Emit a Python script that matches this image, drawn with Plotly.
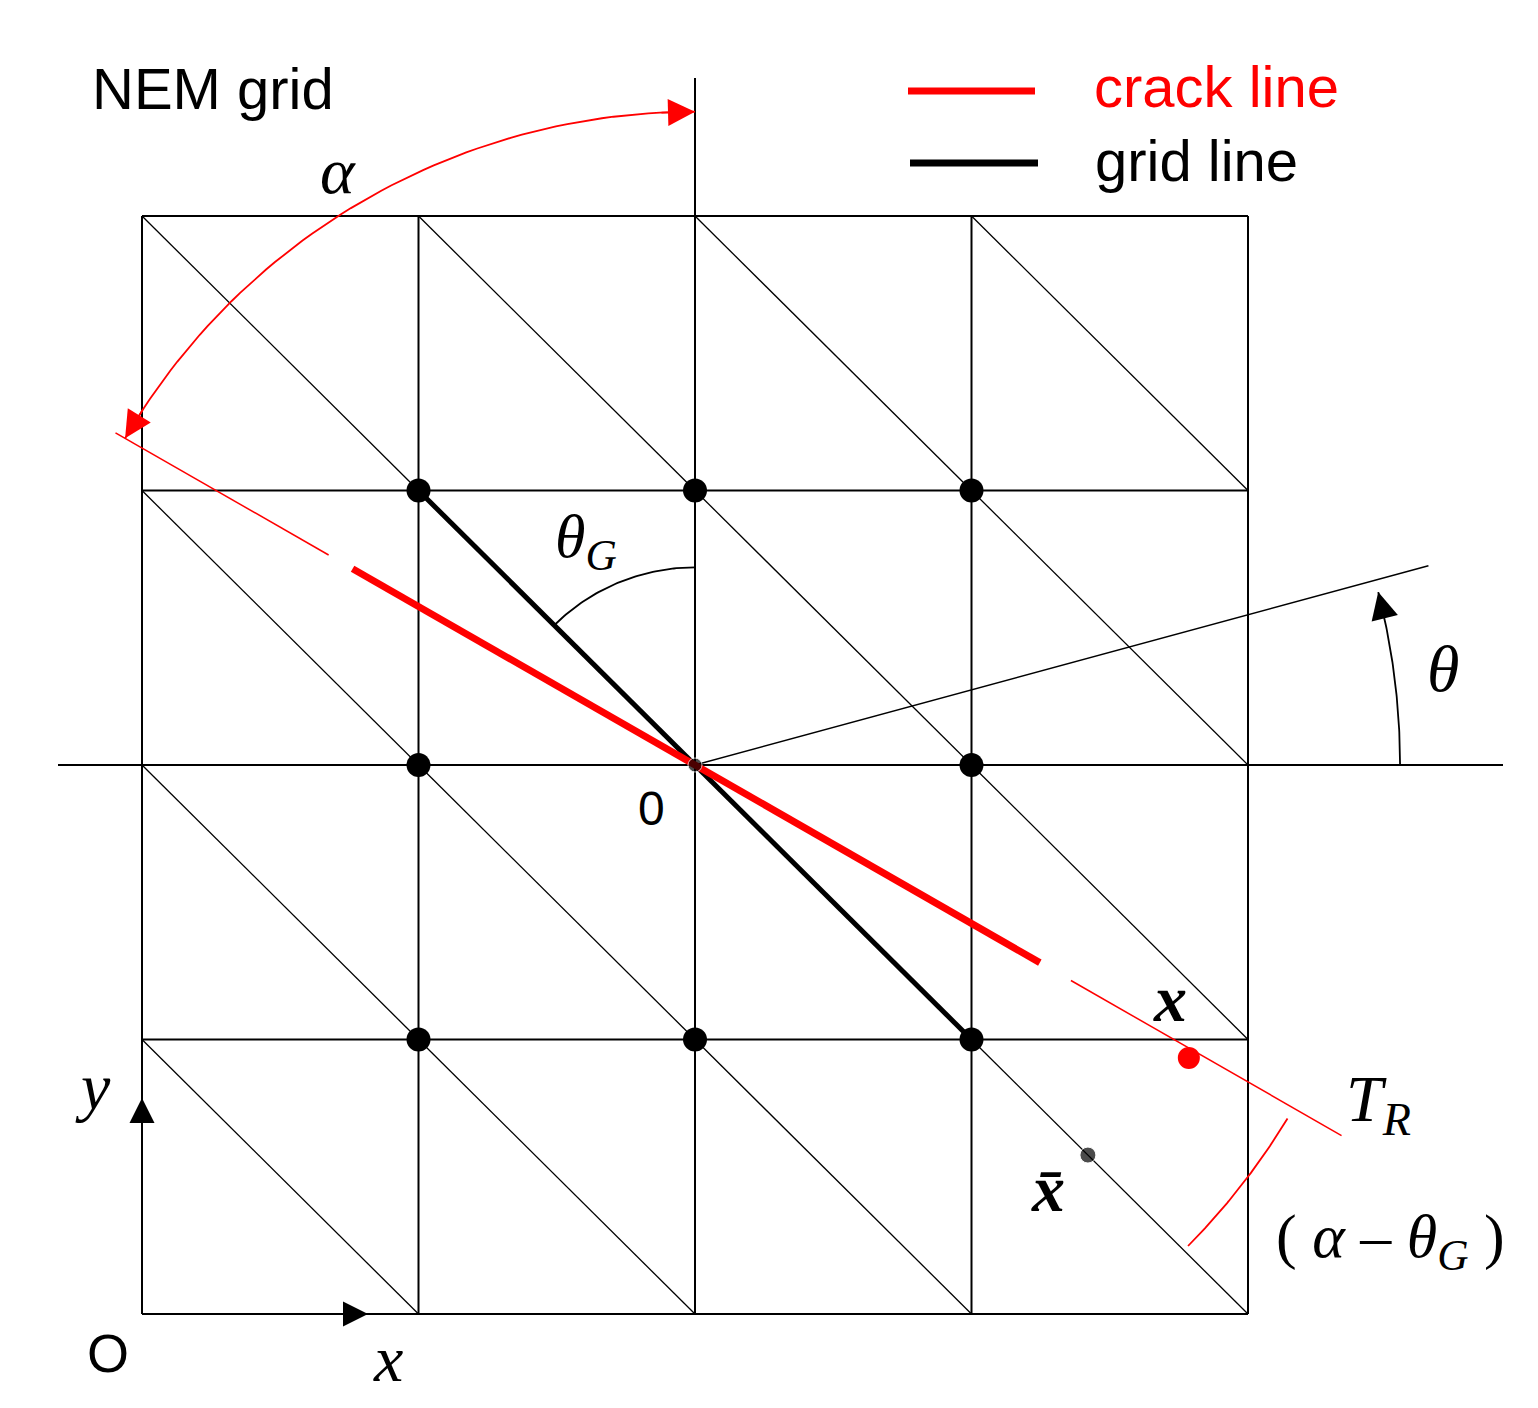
import numpy as np
import plotly.graph_objects as go

# grid in cell units, origin of the local frame at the centre node
grid_ticks = [0, 1, 2, 3, 4]
centre = (2, 2)
nodes_x = [1, 2, 3, 1, 3, 1, 2, 3]
nodes_y = [3, 3, 3, 2, 2, 1, 1, 1]
crack_deg = 150
crack_thick = [-1.44, 1.43]
crack_thin = [[1.53, 2.42], [-1.57, -2.70]]
grid_seg_x = [1, 3]
grid_seg_y = [3, 1]
theta_deg = 15.3
theta_len = 2.75
red_pt = (3.786, 0.933)
xbar_pt = (3.421, 0.579)

W, H = 1538, 1408
X0, Y0, SX, SY = 126, 1298, 276.5, 274.5  # page body offsets by ~8px


def px(u, v):
    return (u - X0 - 8) / SX, (Y0 + 8 - v) / SY


fig = go.Figure()


def line(xs, ys, color="black", width=2):
    fig.add_trace(go.Scatter(x=xs, y=ys, mode="lines", line=dict(color=color, width=width),
                             hoverinfo="skip", showlegend=False))


for t in grid_ticks:
    line([t, t], [0, 4])
    line([0, 4], [t, t])
for i in range(4):
    for j in range(4):
        line([i, i + 1], [j + 1, j], width=1.3)
line([px(50, 0)[0], px(1495, 0)[0]], [2, 2])
line([2, 2], [4, px(0, 70)[1]])

cx, cy = centre
d = np.array([np.cos(np.radians(crack_deg)), np.sin(np.radians(crack_deg))])
line([cx, cx + theta_len * np.cos(np.radians(theta_deg))],
     [cy, cy + theta_len * np.sin(np.radians(theta_deg))], width=1.5)
line(grid_seg_x, grid_seg_y, width=5)
line([cx + crack_thick[0] * d[0], cx + crack_thick[1] * d[0]],
     [cy + crack_thick[0] * d[1], cy + crack_thick[1] * d[1]], color="red", width=7)
for a, b in crack_thin:
    line([cx + a * d[0], cx + b * d[0]], [cy + a * d[1], cy + b * d[1]], color="red", width=1.5)

fig.add_trace(go.Scatter(x=nodes_x, y=nodes_y, mode="markers",
                         marker=dict(color="black", size=24), hoverinfo="skip", showlegend=False))
fig.add_trace(go.Scatter(x=[cx, xbar_pt[0]], y=[cy, xbar_pt[1]], mode="markers",
                         marker=dict(color="black", size=[14, 16]), hoverinfo="skip", showlegend=False))
fig.add_trace(go.Scatter(x=[red_pt[0]], y=[red_pt[1]], mode="markers",
                         marker=dict(color="red", size=22), hoverinfo="skip", showlegend=False))


def arc(r, a0, a1, color, both=True):
    ang = np.radians(np.linspace(a0, a1, 60))
    xs, ys = cx + r * np.cos(ang), cy + r * np.sin(ang)
    line(list(xs), list(ys), color=color, width=1.8)
    ends = [(xs[-1], ys[-1], xs[-4], ys[-4])]
    if both:
        ends.append((xs[0], ys[0], xs[3], ys[3]))
    for ex, ey, sx, sy in ends:
        fig.add_annotation(x=ex, y=ey, ax=sx, ay=sy, xref="x", yref="y", axref="x", ayref="y",
                           showarrow=True, arrowhead=2, arrowsize=3, arrowwidth=1.8,
                           arrowcolor=color, text="")


arc(2.38, 90, 150, "red")
arc(0.72, 90, 135, "black")
arc(2.55, 0, theta_deg - 1, "black", both=False)
arc(2.5, -31, -44.5, "red", both=False)

for (ex, ey, sx, sy) in [(0, px(0, 1090)[1], 0, px(0, 1130)[1]),
                         (px(360, 0)[0], 0, px(320, 0)[0], 0)]:
    fig.add_annotation(x=ex, y=ey, ax=sx, ay=sy, xref="x", yref="y", axref="x", ayref="y",
                       showarrow=True, arrowhead=2, arrowsize=2.5, arrowwidth=2,
                       arrowcolor="black", text="")

line([px(900, 0)[0], px(1027, 0)[0]], [px(0, 83)[1]] * 2, color="red", width=7)
line([px(902, 0)[0], px(1030, 0)[0]], [px(0, 155)[1]] * 2, color="black", width=7)

SANS = "Liberation Sans, Arial"
SERIF = "Liberation Serif, Times New Roman"


def label(u, v, text, size, color="black", family=SANS):
    x, y = px(u, v)
    fig.add_annotation(x=x, y=y, xref="x", yref="y", text=text, showarrow=False,
                       font=dict(size=size, color=color, family=family))


label(205, 80, "NEM grid", 58)
label(1208, 78, "crack line", 58, "red")
label(1188, 152, "grid line", 58)
label(330, 162, "<i>α</i>", 66, family=SERIF)
label(578, 532, "<i>θ</i><sub><i>G</i></sub>", 62, family=SERIF)
label(1435, 660, "<i>θ</i>", 66, family=SERIF)
label(1162, 990, "<b><i>x</i></b>", 66, family=SERIF)
label(1370, 1095, "<i>T</i><sub><i>R</i></sub>", 66, family=SERIF)
label(1382, 1232, "( <i>α</i> – <i>θ</i><sub><i>G</i></sub> )", 62, family=SERIF)
label(1040, 1180, "<b><i>x̄</i></b>", 66, family=SERIF)
label(85, 1078, "<i>y</i>", 66, family=SERIF)
label(100, 1345, "O", 54)
label(380, 1350, "<i>x</i>", 66, family=SERIF)
label(643, 800, "0", 48)

x0, _ = px(0, 0)
x1, _ = px(W, 0)
_, y0 = px(0, H)
_, y1 = px(0, 0)
fig.update_layout(width=W, height=H, margin=dict(l=0, r=0, t=0, b=0),
                  plot_bgcolor="white", paper_bgcolor="white",
                  xaxis=dict(range=[x0, x1], visible=False),
                  yaxis=dict(range=[y0, y1], visible=False))

fig.write_html("out.html")
